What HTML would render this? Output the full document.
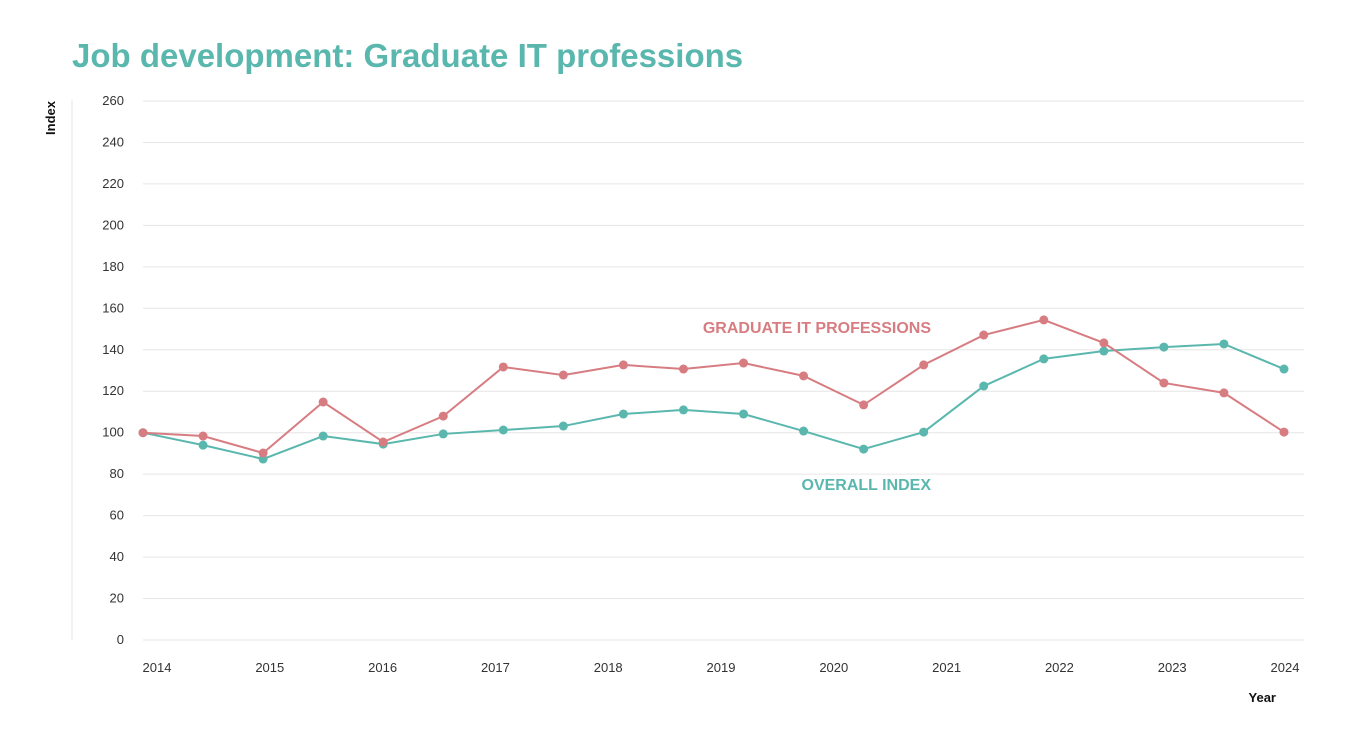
<!DOCTYPE html>
<html><head><meta charset="utf-8"><style>
body{margin:0;background:#fff;width:1351px;height:737px;overflow:hidden;font-family:"Liberation Sans",sans-serif}
</style></head><body>
<svg id="c" width="1351" height="737">
<text x="72" y="67" font-size="33" font-weight="bold" fill="#5ab7ae">Job development: Graduate IT professions</text>
<line x1="72" y1="100" x2="72" y2="640" stroke="#e4e4e4"/>
<text transform="translate(55,118) rotate(-90)" text-anchor="middle" font-size="13" font-weight="bold" fill="#111">Index</text>
<text x="1276" y="702" text-anchor="end" font-size="13" font-weight="bold" fill="#111">Year</text>
<text x="931" y="333" text-anchor="end" font-size="16" font-weight="bold" fill="#d77d82">GRADUATE IT PROFESSIONS</text>
<text x="931" y="490" text-anchor="end" font-size="16" font-weight="bold" fill="#5ab7ae">OVERALL INDEX</text>
<g id="g"></g>
</svg>
<script>
const yTicks=[0,20,40,60,80,100,120,140,160,180,200,220,240,260];
const years=["2014","2015","2016","2017","2018","2019","2020","2021","2022","2023","2024"];
const itValues=[100,98.4,90.2,114.8,95.5,108,131.7,127.8,132.7,130.7,133.6,127.4,113.4,132.7,147.1,154.4,143.3,124,119.2,100.3];
const overallValues=[100,94,87.3,98.4,94.5,99.4,101.3,103.2,109,111,109,100.8,92.1,100.3,122.5,135.6,139.4,141.3,142.8,130.7];
const NS="http://www.w3.org/2000/svg",g=document.getElementById('g');
const y=v=>640-v*(539/260);
const x=i=>143+i*(1284-143)/(itValues.length-1);
const yx=i=>157+i*(1285-157)/(years.length-1);
function mk(t,a){const e=document.createElementNS(NS,t);for(const k in a)e.setAttribute(k,a[k]);g.appendChild(e);return e;}
yTicks.forEach(v=>{
 const l=mk('line',{x1:143,x2:1304,y1:y(v),y2:y(v),stroke:'#e6e6e6'});
 
 
 const t=mk('text',{x:124,y:y(v)+4,'text-anchor':'end','font-size':13,fill:'#333'});t.textContent=v;
 
 
});
years.forEach((s,i)=>{
 const t=mk('text',{x:yx(i),y:672,'text-anchor':'middle','font-size':13,fill:'#333'});t.textContent=s;
 
 
});
function series(vals,col,name){
 const p=mk('polyline',{points:vals.map((v,i)=>x(i)+','+y(v)).join(' '),fill:'none',stroke:col,'stroke-width':2});
 
 
 vals.forEach((v,i)=>{const c=mk('circle',{cx:x(i),cy:y(v),r:4.5,fill:col});
  
  });
}
series(overallValues,'#5ab7ae','overall-index');
series(itValues,'#d77d82','graduate-it');
</script>
</body></html>
